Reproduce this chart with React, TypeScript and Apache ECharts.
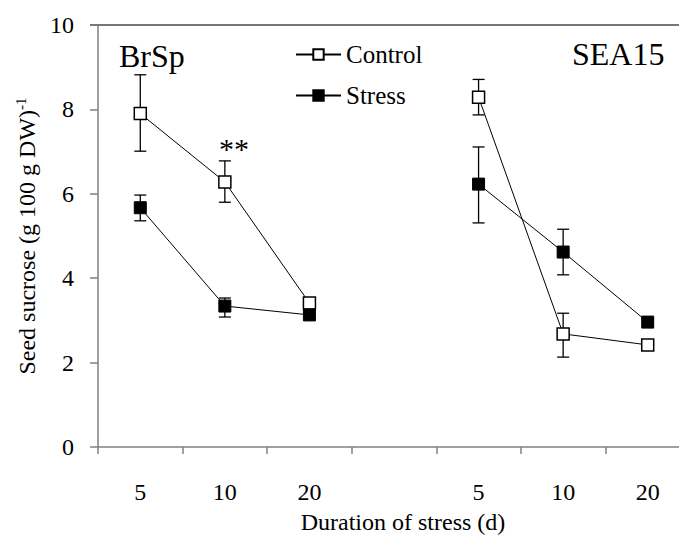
import React, { useEffect, useRef } from "react";
import * as echarts from "echarts";

const categories = ["5", "10", "20", "", "5", "10", "20"];
const controlMean = [7.9, 6.28, 3.41, null, 8.29, 2.68, 2.42];
const controlLow = [7.01, 5.8, 3.35, null, 7.87, 2.13, 2.37];
const controlHigh = [8.82, 6.78, 3.47, null, 8.71, 3.17, 2.47];
const stressMean = [5.67, 3.34, 3.13, null, 6.23, 4.62, 2.96];
const stressLow = [5.36, 3.08, 3.08, null, 5.31, 4.08, 2.91];
const stressHigh = [5.97, 3.53, 3.18, null, 7.11, 5.16, 3.01];
const yTicks = [0, 2, 4, 6, 8, 10];

const FONT = "Liberation Serif";

function errData(low: (number | null)[], high: (number | null)[]) {
  const out: number[][] = [];
  low.forEach((l, i) => {
    const h = high[i];
    if (l != null && h != null) out.push([i, l, h]);
  });
  return out;
}

function errRender(params: any, api: any) {
  const x = api.value(0);
  const lo = api.coord([x, api.value(1)]);
  const hi = api.coord([x, api.value(2)]);
  const cap = 6;
  const style = { stroke: "#000", lineWidth: 1.3 };
  return {
    type: "group",
    children: [
      { type: "line", shape: { x1: lo[0], y1: lo[1], x2: hi[0], y2: hi[1] }, style },
      { type: "line", shape: { x1: lo[0] - cap, y1: lo[1], x2: lo[0] + cap, y2: lo[1] }, style },
      { type: "line", shape: { x1: hi[0] - cap, y1: hi[1], x2: hi[0] + cap, y2: hi[1] }, style },
    ],
  };
}

export default function App() {
  const ref = useRef<HTMLDivElement>(null);
  useEffect(() => {
    if (!ref.current) return;
    const chart = echarts.init(ref.current, null, { renderer: "svg" });
    chart.setOption({
      animation: false,
      backgroundColor: "#fff",
      grid: {
        left: 98,
        top: 25,
        right: -11,
        bottom: 98,
        outerBoundsMode: "none",
        containLabel: false,
      },
      legend: {
        orient: "vertical",
        left: 290,
        top: 37,
        itemWidth: 45,
        itemHeight: 13,
        itemGap: 16,
        data: ["Control", "Stress"],
        textStyle: { fontFamily: FONT, fontSize: 25, color: "#000" },
      },
      xAxis: [
        {
          type: "category",
          data: categories,
          axisLine: { lineStyle: { color: "#808080", width: 1.5 } },
          axisTick: { show: true, length: 7, lineStyle: { color: "#808080", width: 1.5 } },
          axisLabel: { margin: 33, fontFamily: FONT, fontSize: 24, color: "#000" },
          name: "Duration of stress (d)",
          nameLocation: "middle",
          nameGap: 63,
          nameTextStyle: { fontFamily: FONT, fontSize: 24, color: "#000", padding: [0, 0, 0, 18] },
        },
        {
          type: "category",
          position: "top",
          data: categories,
          axisLine: { show: true, onZero: false, lineStyle: { color: "#777", width: 2 } },
          axisTick: { show: false },
          axisLabel: { show: false },
        },
      ],
      yAxis: {
        type: "value",
        min: 0,
        max: 10,
        interval: 2,
        splitLine: { show: false },
        axisLine: { show: true, lineStyle: { color: "#808080", width: 1.5 } },
        axisTick: { show: true, length: 8, lineStyle: { color: "#808080", width: 1.5 } },
        axisLabel: {
          margin: 24,
          fontFamily: FONT,
          fontSize: 24,
          color: "#000",
          formatter: (v: number) => (yTicks.includes(v) ? String(v) : ""),
        },
        name: "{a|Seed sucrose (g 100 g DW)}{b|-1}",
        nameLocation: "middle",
        nameGap: 54,
        nameRotate: 90,
        nameTextStyle: {
          fontFamily: FONT,
          rich: {
            a: { fontFamily: FONT, fontSize: 24, color: "#000" },
            b: { fontFamily: FONT, fontSize: 15, color: "#000", verticalAlign: "top", padding: [0, 0, 12, 0] },
          },
        },
      },
      graphic: [
        {
          type: "rect",
          z: 100,
          silent: true,
          shape: { x: 90, y: 24, width: 589, height: 2 },
          style: { fill: "#777" },
        },
        { type: "text", left: 119, top: 40, style: { text: "BrSp", fontFamily: FONT, fontSize: 32, fill: "#000" } },
        { type: "text", left: 572, top: 38, style: { text: "SEA15", fontFamily: FONT, fontSize: 32, fill: "#000" } },
        { type: "text", left: 219, top: 133, style: { text: "**", fontFamily: FONT, fontSize: 30, fill: "#000" } },
      ],
      series: [
        {
          type: "custom",
          name: "errC",
          renderItem: errRender,
          data: errData(controlLow, controlHigh),
          z: 1,
          silent: true,
        },
        {
          type: "custom",
          name: "errS",
          renderItem: errRender,
          data: errData(stressLow, stressHigh),
          z: 1,
          silent: true,
        },
        {
          name: "Control",
          type: "line",
          data: controlMean,
          connectNulls: false,
          symbol: "rect",
          symbolSize: 12,
          lineStyle: { color: "#000", width: 1 },
          itemStyle: { color: "#fff", borderColor: "#000", borderWidth: 1.5 },
          z: 3,
        },
        {
          name: "Stress",
          type: "line",
          data: stressMean,
          connectNulls: false,
          symbol: "rect",
          symbolSize: 12,
          lineStyle: { color: "#000", width: 1 },
          itemStyle: { color: "#000", borderColor: "#000", borderWidth: 1 },
          z: 3,
        },
      ],
    });
    return () => chart.dispose();
  }, []);
  return <div ref={ref} style={{ width: 679, height: 545, position: "absolute", left: 0, top: 0 }} />;
}
